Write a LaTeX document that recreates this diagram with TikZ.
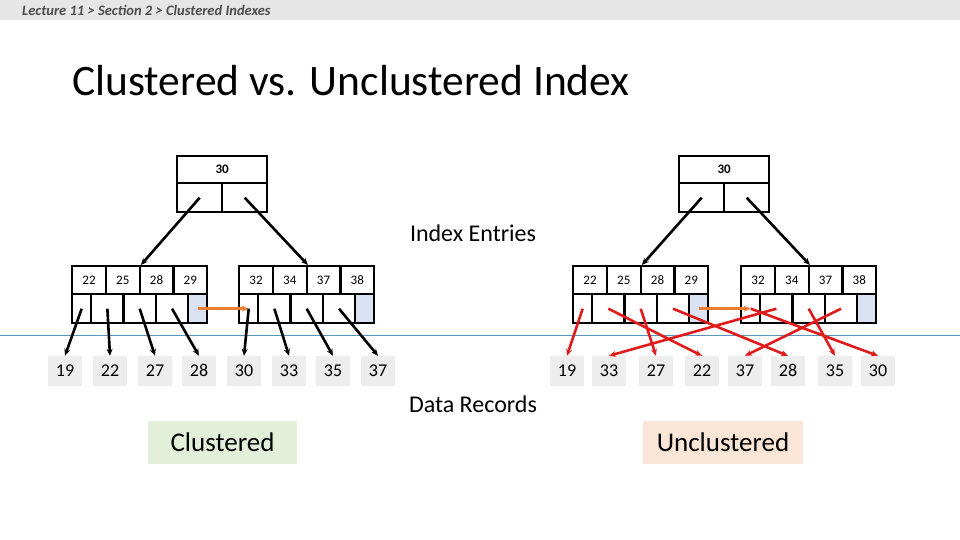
\documentclass[tikz,border=0pt]{standalone}
\usepackage{fontspec}
\setmainfont{Carlito}
\usetikzlibrary{arrows.meta}

\definecolor{hdrgray}{HTML}{E7E6E6}
\definecolor{recgray}{HTML}{EDEDED}
\definecolor{nextblue}{HTML}{DAE3F3}
\definecolor{linkorange}{HTML}{ED7D31}
\definecolor{ptrred}{HTML}{E01B1B}
\definecolor{sepblue}{RGB}{85,150,185}
\definecolor{clugreen}{HTML}{E2F0D9}
\definecolor{uncpeach}{HTML}{FBE5D6}

\begin{document}
\begin{tikzpicture}[
  x=1pt, y=-1pt,
  >={Stealth[length=7pt,width=6pt]},
  keycell/.style={draw=black, line width=2.4pt, minimum width=33.75pt, minimum height=28pt, inner sep=0pt, text height=8.5pt, text depth=0pt, anchor=north west, font=\fontsize{13}{15}\selectfont},
  ptrcell/.style={draw=black, line width=2.4pt, minimum width=#1, minimum height=29pt, inner sep=0pt, anchor=north west},
  rootkey/.style={draw=black, line width=2.4pt, minimum width=90pt, minimum height=27pt, inner sep=0pt, text height=8.5pt, text depth=0pt, anchor=north west, font=\fontsize{13}{15}\selectfont\bfseries},
  rootptr/.style={draw=black, line width=2.4pt, minimum width=45pt, minimum height=29pt, inner sep=0pt, anchor=north west},
  rec/.style={fill=recgray, minimum width=34pt, minimum height=30pt, inner sep=0pt, text height=11.5pt, text depth=0pt, font=\fontsize{18}{20}\selectfont},
  ptr/.style={->, draw=black, line width=2.6pt},
  redptr/.style={->, draw=ptrred, line width=2.6pt},
  nextptr/.style={->, draw=linkorange, line width=2.6pt},
  tag/.style={minimum height=43pt, inner sep=0pt, font=\fontsize{27}{32}\selectfont}
]
  \useasboundingbox (0,0) rectangle (960,540);

  % header bar and title
  \fill[hdrgray] (0,0) rectangle (960,20);
  \node[anchor=west, inner sep=0pt, text=black!70, font=\fontsize{14.5}{16}\selectfont\bfseries\itshape] (crumb) at (22,10) {Lecture 11 > Section 2 > Clustered Indexes};
  \node[anchor=west, inner sep=0pt, font=\fontsize{43.5}{52}\selectfont] (title) at (72,81) {Clustered vs. Unclustered Index};

  % separator between index and data
  \coordinate (sepa) at (0,335);
  \coordinate (sepb) at (960,335);
  \draw[sepblue, line width=1pt] (sepa) -- (sepb);

  % root nodes
  \node[rootkey] (LRk) at (176,155) {30};
  \node[rootptr] (LRp1) at (176,182) {};
  \node[rootptr] (LRp2) at (221,182) {};
  \node[rootkey] (RRk) at (678,155) {30};
  \node[rootptr] (RRp1) at (678,182) {};
  \node[rootptr] (RRp2) at (723,182) {};

  % leaf nodes
  \foreach \lf/\lx/\ka/\kb/\kc/\kd in {L1/71/22/25/28/29, L2/238/32/34/37/38, R1/572/22/25/28/29, R2/740/32/34/37/38} {
    \node[keycell] (\lf k1) at (\lx,265) {\ka};
    \node[keycell] (\lf k2) at (\lx+33.75,265) {\kb};
    \node[keycell] (\lf k3) at (\lx+67.5,265) {\kc};
    \node[keycell] (\lf k4) at (\lx+101.25,265) {\kd};
    \node[ptrcell=19pt] (\lf p1) at (\lx,293) {};
    \node[ptrcell=32.33pt] (\lf p2) at (\lx+19,293) {};
    \node[ptrcell=32.33pt] (\lf p3) at (\lx+51.33,293) {};
    \node[ptrcell=32.33pt] (\lf p4) at (\lx+83.67,293) {};
    \node[ptrcell=19pt, fill=nextblue] (\lf p5) at (\lx+116,293) {};
  }

  % root pointers
  \draw[ptr] (LRp1.center) -- (L1k2.north east);
  \draw[ptr] (LRp2.center) -- (L2k2.north east);
  \draw[ptr] (RRp1.center) -- (R1k2.north east);
  \draw[ptr] (RRp2.center) -- (R2k2.north east);

  % sibling links
  \draw[nextptr] (L1p5.center) -- (L2p1.center);
  \draw[nextptr] (R1p5.center) -- (R2p1.center);

  % data records
  \foreach \v/\x in {19/65,22/110,27/155,28/199,30/244,33/289,35/333,37/378}
    \node[rec] (l\v) at (\x,371) {\v};
  \foreach \v/\x in {19/567,33/609,27/656,22/702,37/745,28/788,35/835,30/878}
    \node[rec] (r\v) at (\x,371) {\v};

  % leaf pointers
  \foreach \p/\v in {L1p1/19,L1p2/22,L1p3/27,L1p4/28,L2p1/30,L2p2/33,L2p3/35,L2p4/37}
    \draw[ptr] (\p.center) -- (l\v.north);
  \foreach \p/\v in {R1p1/19,R1p2/22,R1p3/27,R1p4/28,R2p1/30,R2p2/33,R2p3/35,R2p4/37}
    \draw[redptr] (\p.center) -- (r\v.north);

  % labels
  \node[font=\fontsize{24}{28}\selectfont] (idx) at (473,233) {Index Entries};
  \node[font=\fontsize{24}{28}\selectfont] (dat) at (473,404) {Data Records};
  \node[tag, fill=clugreen, minimum width=149pt] (clu) at (222.5,442.5) {Clustered};
  \node[tag, fill=uncpeach, minimum width=160pt] (unc) at (723,442.5) {Unclustered};
\end{tikzpicture}
\end{document}
